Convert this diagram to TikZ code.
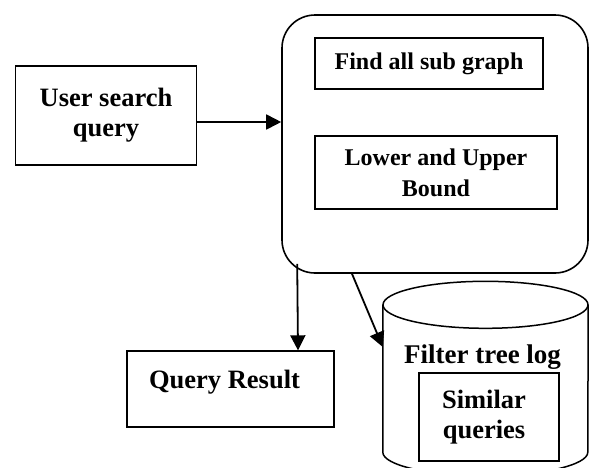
\documentclass[tikz,border=0pt]{standalone}
\usepackage{fontspec}
\setmainfont{Liberation Serif}
\usepackage{tikz}
\usetikzlibrary{shapes}
\usetikzlibrary{positioning}
\usetikzlibrary{arrows.meta}
\tikzset{
    boxn/.style = {rectangle, draw=black, line width=1.4pt, align=center, inner sep=0pt, font=\fontsize{26.5}{30}\selectfont\bfseries},
    boxs/.style = {boxn, font=\fontsize{24}{31}\selectfont\bfseries},
    boxr/.style = {rectangle, draw=black, line width=1.6pt, rounded corners=33pt},
    cyln/.style = {draw=black, line width=1.5pt},
    edgen/.style = {-{Triangle[length=15pt,width=15pt]}, line width=1.8pt}
}
\begin{document}
\begin{tikzpicture}[x=1pt,y=-1pt]
\useasboundingbox (0,0) rectangle (589,467);
%
\node[boxn, minimum width=181pt, minimum height=99pt] at (106,115.5) (user) {User search\\query};
\node[boxr, minimum width=306pt, minimum height=258pt] at (435,144) (proc) {};
\node[boxs, minimum width=228pt, minimum height=51pt] at (429,63.5) (find) {Find all sub graph};
\node[boxs, minimum width=242pt, minimum height=73pt] at (436,172.5) (bound) {Lower and Upper\\Bound};
\node[boxn, minimum width=207pt, minimum height=76pt, text height=17pt, text depth=19pt] at (230.5,389) (result) {Query Result\hspace*{12pt}};
%
\node[minimum width=205pt, minimum height=147pt, inner sep=0pt] at (485.5,378.5) (log) {};
\draw[cyln] (log.north west) -- (log.south west) arc[start angle=180, end angle=360, x radius=102.5pt, y radius=23.5pt] -- (log.north east);
\draw[cyln] (log.north) ellipse[x radius=102.5pt, y radius=23.5pt];
\node[anchor=base, inner sep=0pt, font=\fontsize{27}{30}\selectfont\bfseries] at (482.5,363) (logtitle) {Filter tree log};
\node[boxn, minimum width=140pt, minimum height=88pt] at (489,417) (similar) {Similar\hspace*{10pt}\\queries\hspace*{10pt}};
%
\coordinate (qin) at (proc.west |- 0,122);
\draw[edgen] (user.east |- qin) -- (qin);
\draw[edgen] (proc.south west) ++(16,-10) -- (result.north -| 298,0);
\draw[edgen] (352,0 |- proc.south) -- (log.west |- 0,347);
\end{tikzpicture}
\end{document}
